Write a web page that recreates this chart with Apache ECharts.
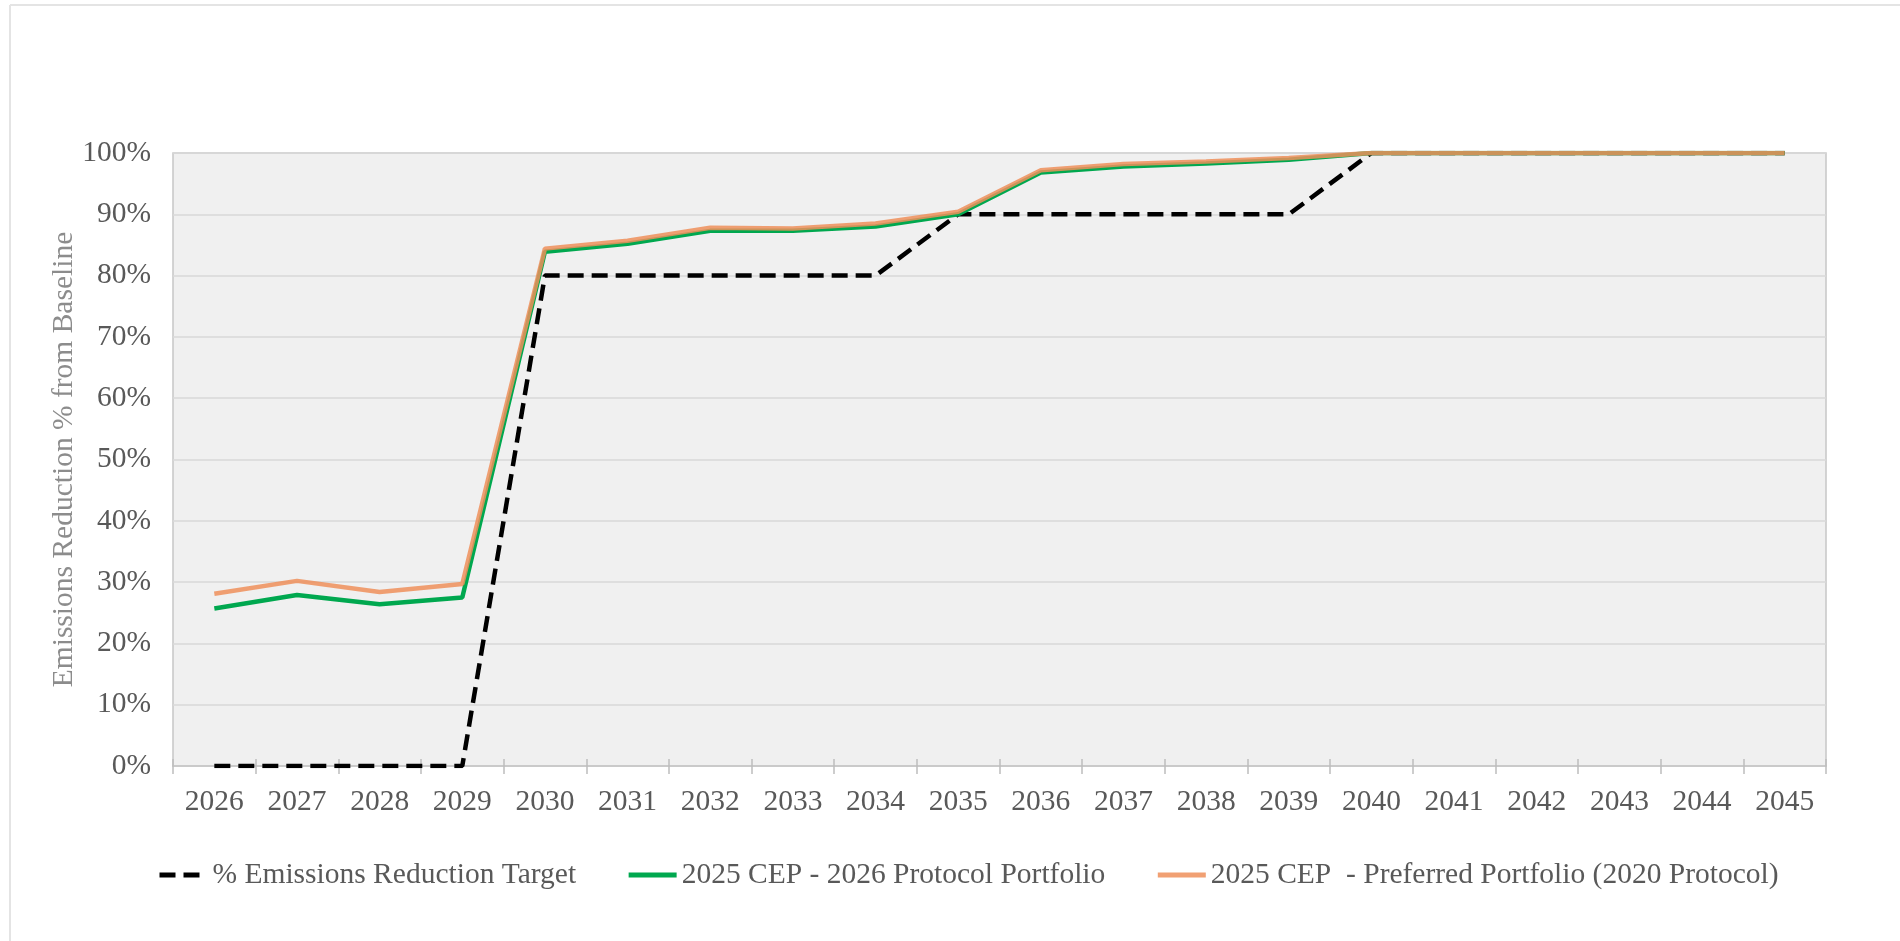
<!DOCTYPE html>
<html>
<head>
<meta charset="utf-8">
<style>
  html, body { margin: 0; padding: 0; background: #fff; }
  #chart { width: 1900px; height: 941px; }
</style>
<script src="https://cdn.jsdelivr.net/npm/echarts@6/dist/echarts.min.js"></script>
</head>
<body>
<div id="chart"></div>
<script>
var years = ['2026', '2027', '2028', '2029', '2030', '2031', '2032', '2033', '2034', '2035',
  '2036', '2037', '2038', '2039', '2040', '2041', '2042', '2043', '2044', '2045']

// % Emissions Reduction Target
var target = [0, 0, 0, 0, 80, 80, 80, 80, 80, 90, 90, 90, 90, 90, 100, 100, 100, 100, 100, 100]
// 2025 CEP - 2026 Protocol Portfolio
var protocol2026 = [25.7, 27.9, 26.4, 27.5, 83.9, 85.2, 87.3, 87.3, 88.0, 90.0,
  96.8, 97.8, 98.3, 98.9, 100, 100, 100, 100, 100, 100]
// 2025 CEP - Preferred Portfolio (2020 Protocol)
var preferred2020 = [28.1, 30.2, 28.4, 29.7, 84.4, 85.7, 87.8, 87.7, 88.5, 90.4,
  97.2, 98.2, 98.6, 99.2, 100, 100, 100, 100, 100, 100]

var seriesNames = [
  '% Emissions Reduction Target',
  '2025 CEP - 2026 Protocol Portfolio',
  '2025 CEP  - Preferred Portfolio (2020 Protocol)'
]

var serif = '"Liberation Serif", "DejaVu Serif", serif'
var textGray = '#595959'
var fontSize = 29.5

var chart = echarts.init(document.getElementById('chart'))

var option = {
  backgroundColor: '#fff',
  animation: false,
  // faint outer frame of the picture
  graphic: [
    { type: 'line', shape: { x1: 10, y1: 5, x2: 1900, y2: 5 }, style: { stroke: '#e4e4e4', lineWidth: 2 } },
    { type: 'line', shape: { x1: 10, y1: 5, x2: 10, y2: 941 }, style: { stroke: '#e4e4e4', lineWidth: 2 } }
  ],
  grid: {
    left: 173,
    right: 74,
    top: 153,
    bottom: 175,
    show: true,
    backgroundColor: '#f0f0f0',
    borderColor: '#c6c6c6',
    borderWidth: 1.5
  },
  legend: {
    left: 152,
    top: 855,
    itemWidth: 48,
    itemHeight: 14,
    itemGap: 50,
    // hide the little marker, keep only the line
    itemStyle: { opacity: 0 },
    lineStyle: { width: 5 },
    textStyle: { fontFamily: serif, fontSize: fontSize, color: textGray },
    data: seriesNames
  },
  xAxis: [
    {
      type: 'category',
      data: years,
      axisLine: { lineStyle: { color: '#c6c6c6', width: 1.5 } },
      axisTick: { show: true, length: 8, lineStyle: { color: '#bdbdbd', width: 1.5 } },
      axisLabel: { fontFamily: serif, fontSize: fontSize, color: textGray, margin: 21 },
      splitLine: { show: false }
    },
    {
      // second copy, just for the part of the ticks above the axis line
      type: 'category',
      data: years,
      position: 'bottom',
      axisLine: { show: false },
      axisTick: { show: true, inside: true, length: 7, lineStyle: { color: '#bdbdbd', width: 1.5 } },
      axisLabel: { show: false },
      splitLine: { show: false }
    }
  ],
  yAxis: {
    type: 'value',
    min: 0,
    max: 100,
    interval: 10,
    name: 'Emissions Reduction % from Baseline',
    nameLocation: 'middle',
    nameGap: 94,
    nameMoveOverlap: false,
    nameTextStyle: { fontFamily: serif, fontSize: fontSize, color: '#8c8c8c' },
    axisLine: { show: false },
    axisTick: { show: false },
    axisLabel: {
      fontFamily: serif,
      fontSize: fontSize,
      color: textGray,
      margin: 22,
      formatter: '{value}%'
    },
    splitLine: { lineStyle: { color: '#d9d9d9', width: 1.5 } }
  },
  series: [
    {
      name: seriesNames[0],
      type: 'line',
      data: target,
      symbol: 'none',
      z: 2,
      lineStyle: { color: '#000', width: 4.5, type: [16, 8] },
      itemStyle: { color: '#000' }
    },
    {
      name: seriesNames[1],
      type: 'line',
      data: protocol2026,
      symbol: 'none',
      z: 3,
      lineStyle: { color: '#00a84f', width: 4.5 },
      itemStyle: { color: '#00a84f' }
    },
    {
      name: seriesNames[2],
      type: 'line',
      data: preferred2020,
      symbol: 'none',
      z: 4,
      lineStyle: { color: '#ee8f5a', width: 4.5, opacity: 0.85 },
      itemStyle: { color: '#ee8f5a' }
    }
  ]
}

chart.setOption(option)
</script>
</body>
</html>
